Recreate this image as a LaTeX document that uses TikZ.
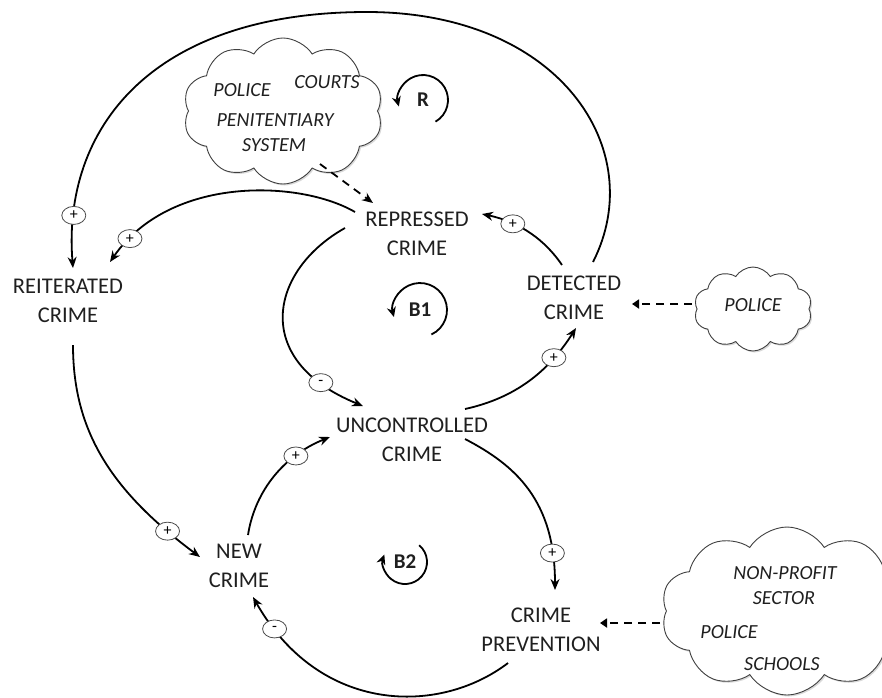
\documentclass[tikz,border=0pt]{standalone}
\usepackage{fontspec}
\setmainfont{Carlito}
\usetikzlibrary{shapes.geometric,shapes.symbols,arrows.meta,calc,shadows}

\begin{document}
\begin{tikzpicture}[x=1pt,y=-1pt,
  var/.style={align=center,inner sep=0pt,font=\fontsize{22.5}{28.5}\selectfont,text=black!88},
  agent/.style={inner sep=0pt,font=\fontsize{20}{24}\selectfont\itshape,text=black!88},
  cloudbox/.style={cloud,cloud puffs=10,cloud puff arc=115,cloud ignores aspect,
    draw=black!75,line width=0.9pt,fill=white,
    drop shadow={opacity=0.3,shadow xshift=1.5pt,shadow yshift=-1.5pt}},
  link/.style={line width=1.8pt,-{Stealth[length=11pt,width=9pt]}},
  influence/.style={line width=1.8pt,dash pattern=on 8pt off 6pt,-{Triangle[length=7pt,width=9pt]}},
  pol/.style={ellipse,draw=black!70,line width=0.8pt,fill=white,minimum width=24pt,
    minimum height=18pt,inner sep=0pt,font=\fontsize{16}{16}\selectfont},
  looplabel/.style={font=\fontsize{21}{21}\selectfont\bfseries,inner sep=0pt,text=black!88},
  looparrow/.style={line width=1.8pt,-{Stealth[length=10pt,width=9pt]}}
]
\useasboundingbox (0,0) rectangle (882,697);

% clouds of actors acting on the system
\node[cloudbox,minimum width=200pt,minimum height=146pt] (justice) at (283,111) {};
\node[cloudbox,minimum width=118pt,minimum height=84pt] (policecloud) at (753,309) {};
\node[cloudbox,minimum width=252pt,minimum height=168pt] (society) at (787,611) {};

\node[agent] (jpolice) at (242,90) {POLICE};
\node[agent] (jcourts) at (327,82) {COURTS};
\node[agent] (jpenit) at (275,120) {PENITENTIARY};
\node[agent] (jsystem) at (274,145) {SYSTEM};
\node[agent] (ppolice) at (753,305) {POLICE};
\node[agent] (snonprofit) at (785,573) {NON-PROFIT};
\node[agent] (ssector) at (784,598) {SECTOR};
\node[agent] (spolice) at (729,632) {POLICE};
\node[agent] (sschools) at (782,664) {SCHOOLS};

% variables
\node[var] (reit) at (68,301) {REITERATED\\CRIME};
\node[var] (rep) at (417,234) {REPRESSED\\CRIME};
\node[var] (det) at (574,298) {DETECTED\\CRIME};
\node[var] (unc) at (412,440) {UNCONTROLLED\\CRIME};
\node[var] (new) at (239,566) {NEW\\CRIME};
\node[var] (prev) at (541,630) {CRIME\\PREVENTION};

% loop labels
\node[looplabel] (lR) at (423,100) {R};
\node[looplabel] (lB1) at (420,310) {B1};
\node[looplabel] (lB2) at (405,562) {B2};
\draw[looparrow] ($(lR)+(60:25)$) arc[start angle=60,end angle=-195,radius=25];
\draw[looparrow] ($(lB1)+(65:27)$) arc[start angle=65,end angle=-195,radius=27];
\draw[looparrow] ($(lB2)+(-50:22)$) arc[start angle=-50,end angle=200,radius=22];

% causal links
\coordinate (apex) at (367,12);
\draw[link] ($(det)+(19,-36)$) .. controls (650,150) and (560,12) .. (apex)
  .. controls (150,12) and (62,130) .. ($(reit)+(5,-33)$) node[pol,pos=0.87] (p1) {+};
\draw[link] ($(rep)+(-62,-22)$) .. controls (300,180) and (170,175) .. ($(reit)+(42,-39)$)
  node[pol,pos=0.9] (p2) {+};
\draw[link] ($(rep)+(-72,-6)$) .. controls (270,270) and (250,360) .. ($(unc)+(-49,-34)$)
  node[pol,pos=0.85] (p3) {-};
\draw[link] ($(unc)+(53,-31)$) .. controls (515,398) and (548,372) .. ($(det)+(2,30)$)
  node[pol,pos=0.75] (p4) {+};
\draw[link] ($(det)+(-12,-33)$) .. controls (545,240) and (520,222) .. ($(rep)+(65,-20)$)
  node[pol,pos=0.7] (p5) {+};
\draw[link] ($(reit)+(5,44)$) .. controls (73,430) and (110,490) .. ($(new)+(-39,-9)$)
  node[pol,pos=0.87] (p6) {+};
\draw[link] ($(new)+(9,-31)$) .. controls (255,490) and (285,455) .. ($(unc)+(-82,-3)$)
  node[pol,pos=0.72] (p7) {+};
\draw[link] ($(unc)+(53,-1)$) .. controls (515,465) and (555,500) .. ($(prev)+(14,-40)$)
  node[pol,pos=0.85] (p8) {+};
\draw[link] ($(prev)+(-33,33)$) .. controls (440,715) and (320,715) .. ($(new)+(14,31)$)
  node[pol,pos=0.9] (p9) {-};

% external influences
\draw[line width=1.8pt,dash pattern=on 8pt off 6pt,-{Stealth[length=11pt,width=9pt]}]
  ($(justice)+(37,53)$) -- ($(rep)+(-44,-31)$);
\draw[influence] ($(policecloud)+(-61,-5)$) -- ($(det)+(58,6)$);
\draw[influence] ($(society)+(-127,12)$) -- ($(prev)+(59,-7)$);
\end{tikzpicture}
\end{document}
